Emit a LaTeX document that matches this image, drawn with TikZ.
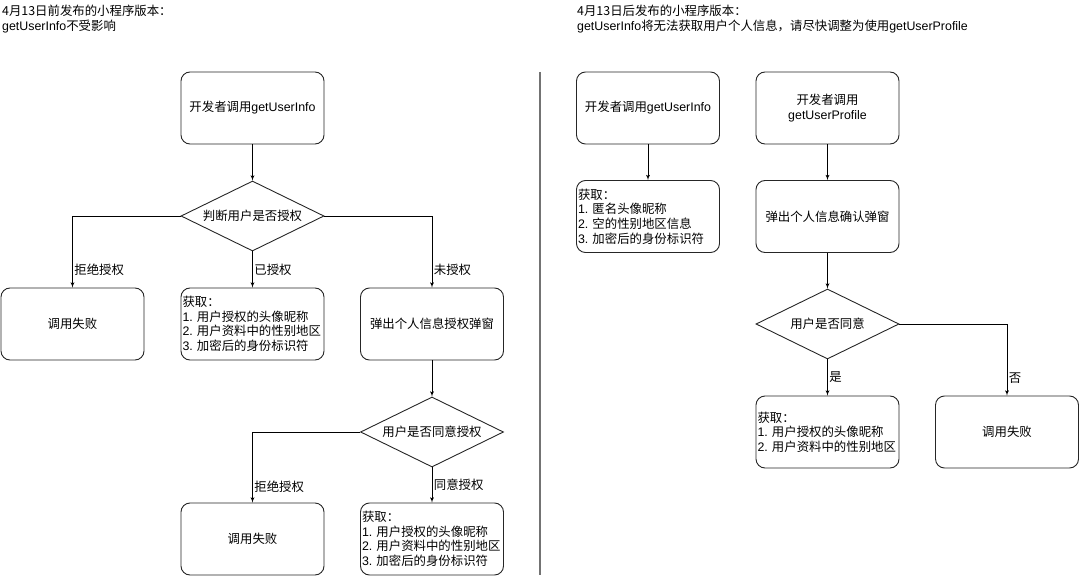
\documentclass[tikz,border=0pt]{standalone}
\usepackage{fontspec}
\setmainfont{Noto Sans CJK SC}
\newfontfamily\lat{Liberation Sans}
\newcommand{\en}[1]{{\lat #1}}
\newcommand{\num}[1]{{\lat #1.~}}
\usetikzlibrary{shapes,arrows,positioning}

\tikzset{
  stepbox/.style={draw=black!85, line width=0.9pt, rounded corners=9pt, minimum width=143pt, minimum height=72pt, align=center, inner sep=1.5pt},
  infobox/.style={stepbox, text width=140pt, align=left},
  choice/.style={draw=black!85, line width=0.9pt, diamond, aspect=2, minimum width=143pt, minimum height=70pt, inner sep=0pt},
  edgelabel/.style={right, inner sep=1.5pt},
  heading/.style={anchor=north west, align=left, inner sep=0pt},
  flow/.style={->, line width=0.8pt},
}

\begin{document}
\begin{tikzpicture}[x=1pt, y=-1pt, >=latex', every node/.style={font=\fontsize{12.4}{14.6}\selectfont}]
\useasboundingbox (0,0) rectangle (1080,578);

% before 4/13
\node[heading] (titleL) at (2,5) {4月13日前发布的小程序版本：\\\en{getUserInfo}不受影响};
\node[stepbox] (startL) at (252.5,108) {开发者调用\en{getUserInfo}};
\node[choice] (authL) at (252.5,216) {判断用户是否授权};
\node[stepbox] (failL) at (72.5,324) {调用失败};
\node[infobox] (infoL) at (252.5,324) {获取：\\\num{1}用户授权的头像昵称\\\num{2}用户资料中的性别地区\\\num{3}加密后的身份标识符};
\node[stepbox] (popL) at (432,324) {弹出个人信息授权弹窗};
\node[choice] (agreeL) at (432,432) {用户是否同意授权};
\node[stepbox] (failL2) at (252.5,539) {调用失败};
\node[infobox] (infoL2) at (432,539) {获取：\\\num{1}用户授权的头像昵称\\\num{2}用户资料中的性别地区\\\num{3}加密后的身份标识符};

\draw[flow] (startL) -- (authL);
\draw[flow] (authL.west) -| node[edgelabel, pos=0.875] {拒绝授权} (failL.north);
\draw[flow] (authL) -- node[edgelabel] {已授权} (infoL);
\draw[flow] (authL.east) -| node[edgelabel, pos=0.875] {未授权} (popL.north);
\draw[flow] (popL) -- (agreeL);
\draw[flow] (agreeL.west) -| node[edgelabel, pos=0.885] {拒绝授权} (failL2.north);
\draw[flow] (agreeL) -- node[edgelabel] {同意授权} (infoL2);

% divider
\draw[black!55, line width=1.3pt] (540,72) -- (540,575);

% after 4/13
\node[heading] (titleR) at (577,5) {4月13日后发布的小程序版本：\\\en{getUserInfo}将无法获取用户个人信息，请尽快调整为使用\en{getUserProfile}};
\node[stepbox] (startR1) at (648,108) {开发者调用\en{getUserInfo}};
\node[stepbox] (startR2) at (827.5,108) {开发者调用\\\en{getUserProfile}};
\node[infobox] (infoR1) at (648,216.5) {获取：\\\num{1}匿名头像昵称\\\num{2}空的性别地区信息\\\num{3}加密后的身份标识符};
\node[stepbox] (popR) at (827.5,216.5) {弹出个人信息确认弹窗};
\node[choice] (agreeR) at (827.5,324) {用户是否同意};
\node[infobox] (infoR2) at (827.5,432) {获取：\\\num{1}用户授权的头像昵称\\\num{2}用户资料中的性别地区};
\node[stepbox] (failR) at (1007,432) {调用失败};

\draw[flow] (startR1) -- (infoR1);
\draw[flow] (startR2) -- (popR);
\draw[flow] (popR) -- (agreeR);
\draw[flow] (agreeR) -- node[edgelabel] {是} (infoR2);
\draw[flow] (agreeR.east) -| node[edgelabel, pos=0.875] {否} (failR.north);

\end{tikzpicture}
\end{document}
